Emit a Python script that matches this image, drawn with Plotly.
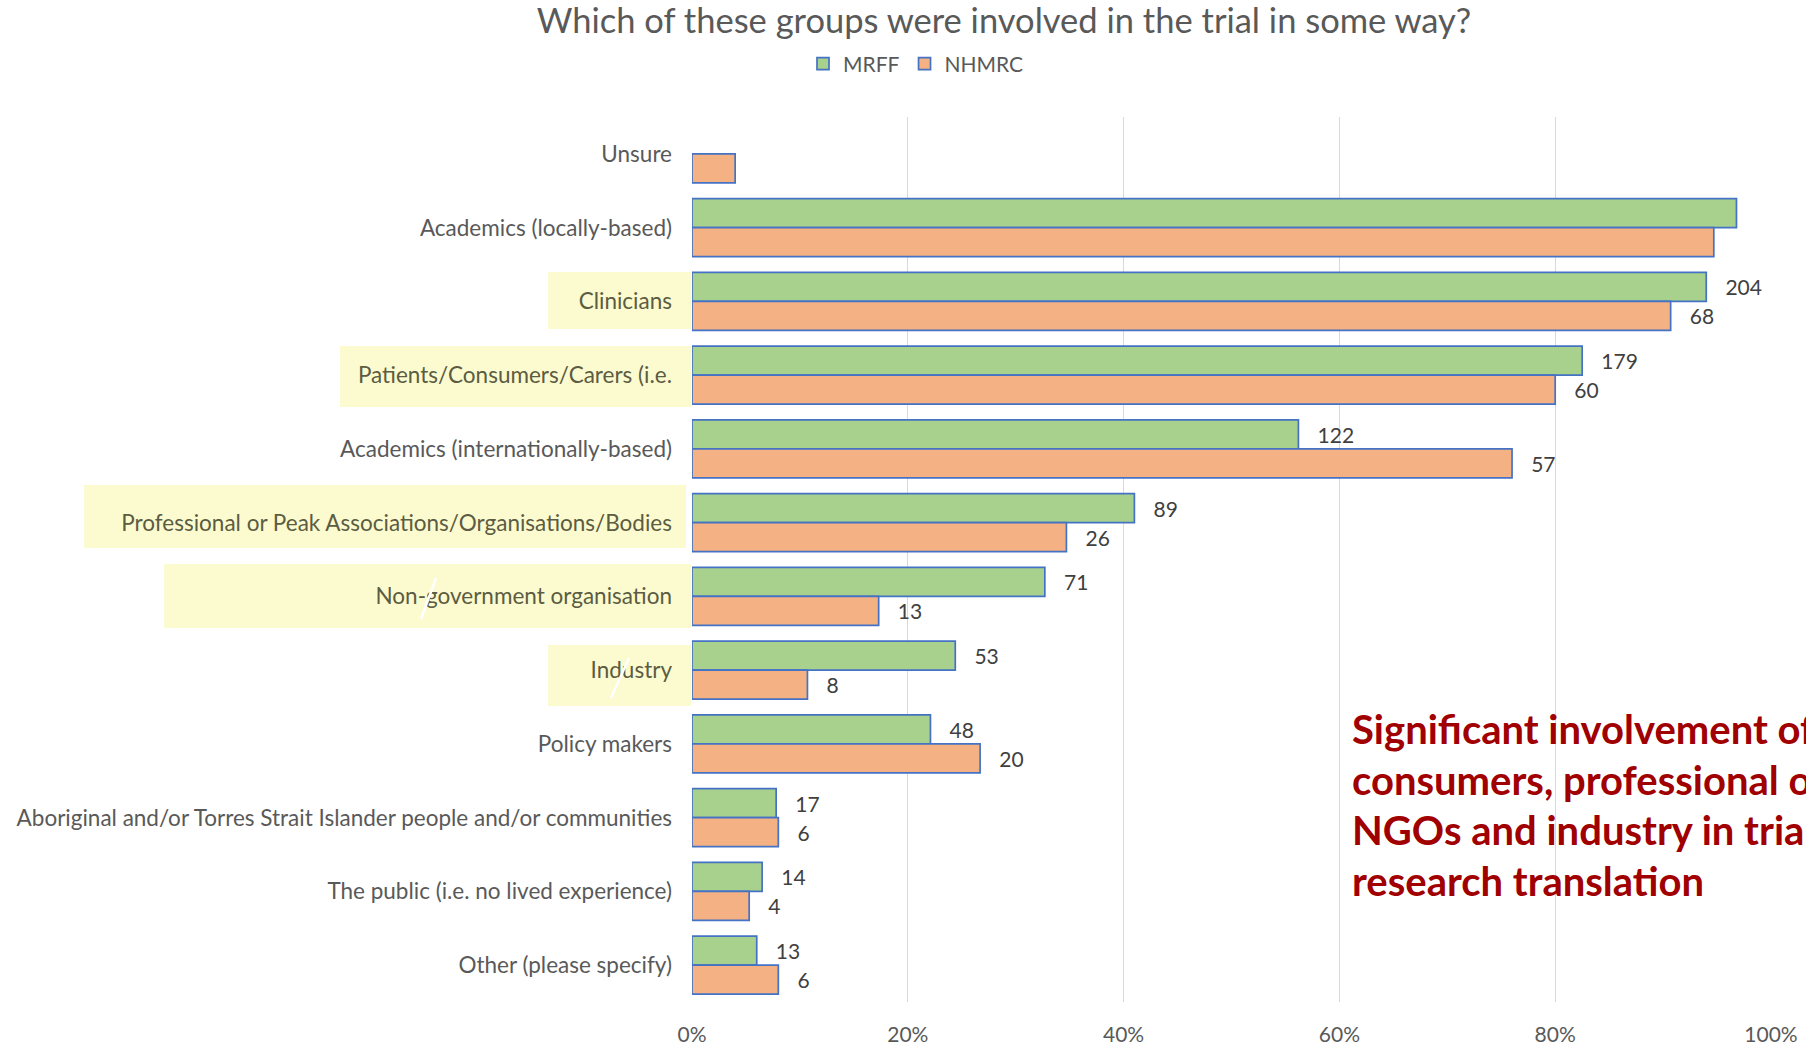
import plotly.graph_objects as go

# ---------------- data ----------------
categories = [
    "Unsure",
    "Academics (locally-based)",
    "Clinicians",
    "Patients/Consumers/Carers (i.e.",
    "Academics (internationally-based)",
    "Professional or Peak Associations/Organisations/Bodies",
    "Non-government organisation",
    "Industry",
    "Policy makers",
    "Aboriginal and/or Torres Strait Islander people and/or communities",
    "The public (i.e. no lived experience)",
    "Other (please specify)",
]
highlighted = [
    "Clinicians",
    "Patients/Consumers/Carers (i.e.",
    "Professional or Peak Associations/Organisations/Bodies",
    "Non-government organisation",
    "Industry",
]
mrff_pct = [None, 96.8, 94.0, 82.5, 56.2, 41.0, 32.7, 24.4, 22.1, 7.8, 6.5, 6.0]
nhmrc_pct = [4.0, 94.7, 90.7, 80.0, 76.0, 34.7, 17.3, 10.7, 26.7, 8.0, 5.3, 8.0]
mrff_labels = ["", "", "204", "179", "122", "89", "71", "53", "48", "17", "14", "13"]
nhmrc_labels = ["", "", "68", "60", "57", "26", "13", "8", "20", "6", "4", "6"]
x_tickvals = [0, 20, 40, 60, 80, 100]
x_ticktext = ["0%", "20%", "40%", "60%", "80%", "100%"]
title_text = "Which of these groups were involved in the trial in some way?"
note_lines = [
    "Significant involvement of",
    "consumers, professional orgs,",
    "NGOs and industry in trials and",
    "research translation",
]

# ---------------- layout geometry (pixels) ----------------
W, H = 1806, 1052
L, R, T, B = 692, 1771, 117, 1002
FONT = "Lato, Carlito, 'Open Sans', sans-serif"


def px_x(p):
    return (p - L) / (R - L)


def px_y(p):
    return (B - p) / (B - T)


pad = "\u00a0\u00a0\u00a0"
fig = go.Figure()
fig.add_trace(go.Bar(
    name="MRFF", y=categories, x=mrff_pct, orientation="h",
    marker=dict(color="#A9D18E", line=dict(color="#4472C4", width=1.7)),
    text=[(pad + t) if t else "" for t in mrff_labels],
    textposition="outside", textangle=0, constraintext="none", cliponaxis=False,
    textfont=dict(family=FONT, size=21, color="#404040"),
    hoverinfo="skip",
))
fig.add_trace(go.Bar(
    name="NHMRC", y=categories, x=nhmrc_pct, orientation="h",
    marker=dict(color="#F4B183", line=dict(color="#4472C4", width=1.7)),
    text=[(pad + t) if t else "" for t in nhmrc_labels],
    textposition="outside", textangle=0, constraintext="none", cliponaxis=False,
    textfont=dict(family=FONT, size=21, color="#404040"),
    hoverinfo="skip",
))

ticktext = [
    (f'<span style="color:#5C5C42">{c}</span>' if c in highlighted else c)
    for c in categories
]

# yellow highlight boxes behind some category labels (pixel boxes)
boxes = [
    (548, 272, 691, 329),
    (340, 346, 691, 407),
    (84, 485, 686, 548),
    (164, 564, 691, 628),
    (548, 645, 691, 706),
]
shapes = []
for x0, y0, x1, y1 in boxes:
    shapes.append(dict(
        type="rect", xref="paper", yref="paper",
        x0=px_x(x0), x1=px_x(x1), y0=px_y(y1), y1=px_y(y0),
        fillcolor="#FBFBCF", line=dict(width=0), layer="below",
    ))
# small white strokes crossing two labels
for x0, y0, x1, y1 in [(436, 578, 421, 619), (629, 658, 611, 698)]:
    shapes.append(dict(
        type="line", xref="paper", yref="paper",
        x0=px_x(x0), x1=px_x(x1), y0=px_y(y0), y1=px_y(y1),
        line=dict(color="white", width=2.5), layer="above",
    ))

annotations = []
for i, line in enumerate(note_lines):
    annotations.append(dict(
        text=f"<b>{line}</b>", xref="paper", yref="paper",
        x=px_x(1350), y=px_y(729 + i * 50.7), xanchor="left", yanchor="middle",
        showarrow=False, align="left",
        font=dict(family=FONT, size=40, color="#A00000"),
    ))

fig.update_layout(
    width=W, height=H,
    margin=dict(l=L, r=W - R, t=T, b=H - B, pad=0),
    paper_bgcolor="white", plot_bgcolor="white",
    barmode="group", bargap=0.213, bargroupgap=0,
    font=dict(family=FONT, size=22, color="#595959"),
    title=dict(
        text=title_text, x=1004 / W, xanchor="center",
        y=1 - 21 / H, yanchor="middle", yref="container",
        font=dict(family=FONT, size=34.5, color="#595959"),
    ),
    legend=dict(
        orientation="h", x=px_x(916), xanchor="center",
        y=px_y(64), yanchor="middle",
        font=dict(family=FONT, size=21, color="#595959"),
        itemwidth=30, traceorder="normal",
    ),
    xaxis=dict(
        range=[0, 100], tickvals=x_tickvals, ticktext=x_ticktext,
        showgrid=True, gridcolor="#D9D9D9", gridwidth=1.3,
        zeroline=False, showline=False,
        ticks="outside", ticklen=14, tickcolor="rgba(0,0,0,0)",
        tickfont=dict(family=FONT, size=21, color="#595959"),
        fixedrange=True, automargin=False,
    ),
    yaxis=dict(
        categoryorder="array", categoryarray=categories,
        autorange="reversed", tickvals=categories, ticktext=ticktext,
        showgrid=False, zeroline=False, showline=False, ticks="",
        tickfont=dict(family=FONT, size=22.5, color="#595959"),
        ticklabelstandoff=19, fixedrange=True, automargin=False,
    ),
    shapes=shapes,
    annotations=annotations,
    showlegend=True,
)

fig.write_html(
    "out.html",
    config={"displayModeBar": False},
    post_script="document.body.style.margin='0';",
)
